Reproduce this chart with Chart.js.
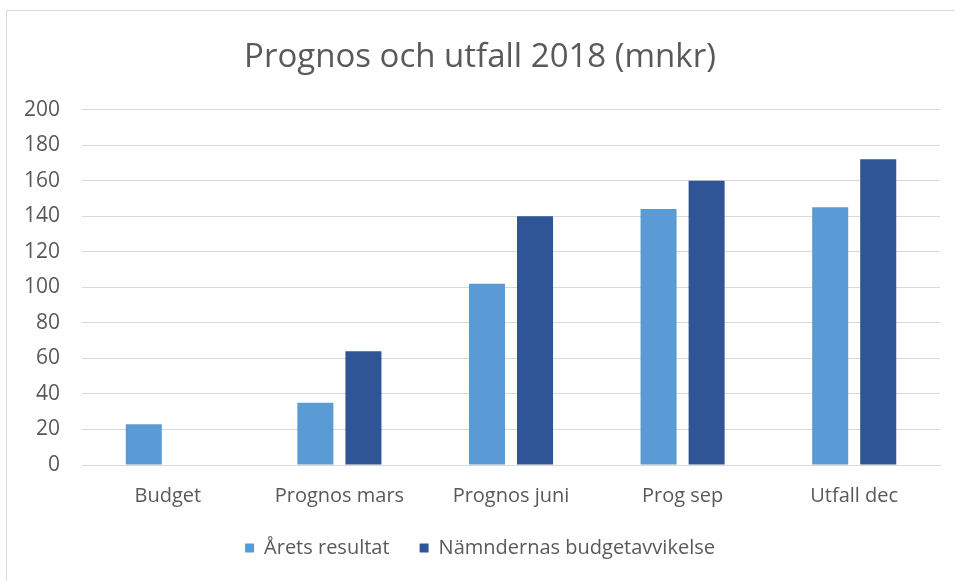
<!DOCTYPE html>
<html>
<head>
<meta charset="utf-8">
<script src="https://cdn.jsdelivr.net/npm/chart.js@4"></script>
<style>
  html, body { margin:0; padding:0; background:#fff; }
  #wrap { position:relative; width:955px; height:581px; }
</style>
</head>
<body>
<div id="wrap"><canvas id="chart" width="955" height="581"></canvas></div>
<script>
const categories = ["Budget", "Prognos mars", "Prognos juni", "Prog sep", "Utfall dec"];
const aretsResultat = [23, 35, 102, 144, 145];
const namndernasAvvikelse = [null, 64, 140, 160, 172];
const yTicks = [0, 20, 40, 60, 80, 100, 120, 140, 160, 180, 200];

const TEXT = "#595959";
const FONT = "'Open Sans', sans-serif";

/* ram runt diagrammet */
const frame = {
  id: "frame",
  beforeDraw(chart){
    const c = chart.ctx;
    c.save();
    c.fillStyle = "#fff";
    c.fillRect(0, 0, chart.width, chart.height);
    c.strokeStyle = "#d9d9d9";
    c.lineWidth = 1;
    c.strokeRect(6.5, 10.5, 1000, 1000);
    c.restore();
  }
};

new Chart(document.getElementById("chart"), {
  type: "bar",
  data: {
    labels: categories,
    datasets: [
      { label: "Årets resultat", data: aretsResultat, backgroundColor: "#5B9BD5", borderWidth: 0 },
      { label: "Nämndernas budgetavvikelse", data: namndernasAvvikelse, backgroundColor: "#2F5597", borderWidth: 0 }
    ]
  },
  options: {
    responsive: false,
    animation: false,
    layout: { padding: { left: 20, right: 15, top: 0, bottom: 13 } },
    datasets: { bar: { categoryPercentage: 0.56, barPercentage: 0.75 } },
    plugins: {
      title: {
        display: true,
        text: "Prognos och utfall 2018 (mnkr)",
        color: TEXT,
        font: { family: FONT, size: 33, weight: "normal" },
        padding: { top: 38, bottom: 32 }
      },
      legend: {
        position: "bottom",
        labels: {
          color: TEXT,
          font: { family: FONT, size: 20 },
          boxWidth: 9,
          boxHeight: 9,
          padding: 30
        }
      },
      tooltip: { enabled: false }
    },
    scales: {
      x: {
        afterFit: s => { s.height = 43; },
        grid: { display: false },
        border: { display: true, color: "#d9d9d9" },
        ticks: { color: TEXT, font: { family: FONT, size: 20 }, padding: 11 }
      },
      y: {
        min: 0,
        max: 200,
        afterBuildTicks: s => { s.ticks = yTicks.map(v => ({ value: v })); },
        afterFit: s => { s.width = 62; },
        grid: { color: "#d9d9d9", drawTicks: false },
        border: { display: false },
        ticks: { color: TEXT, font: { family: FONT, size: 21 }, padding: 22 }
      }
    }
  },
  plugins: [frame]
});
</script>
</body>
</html>
